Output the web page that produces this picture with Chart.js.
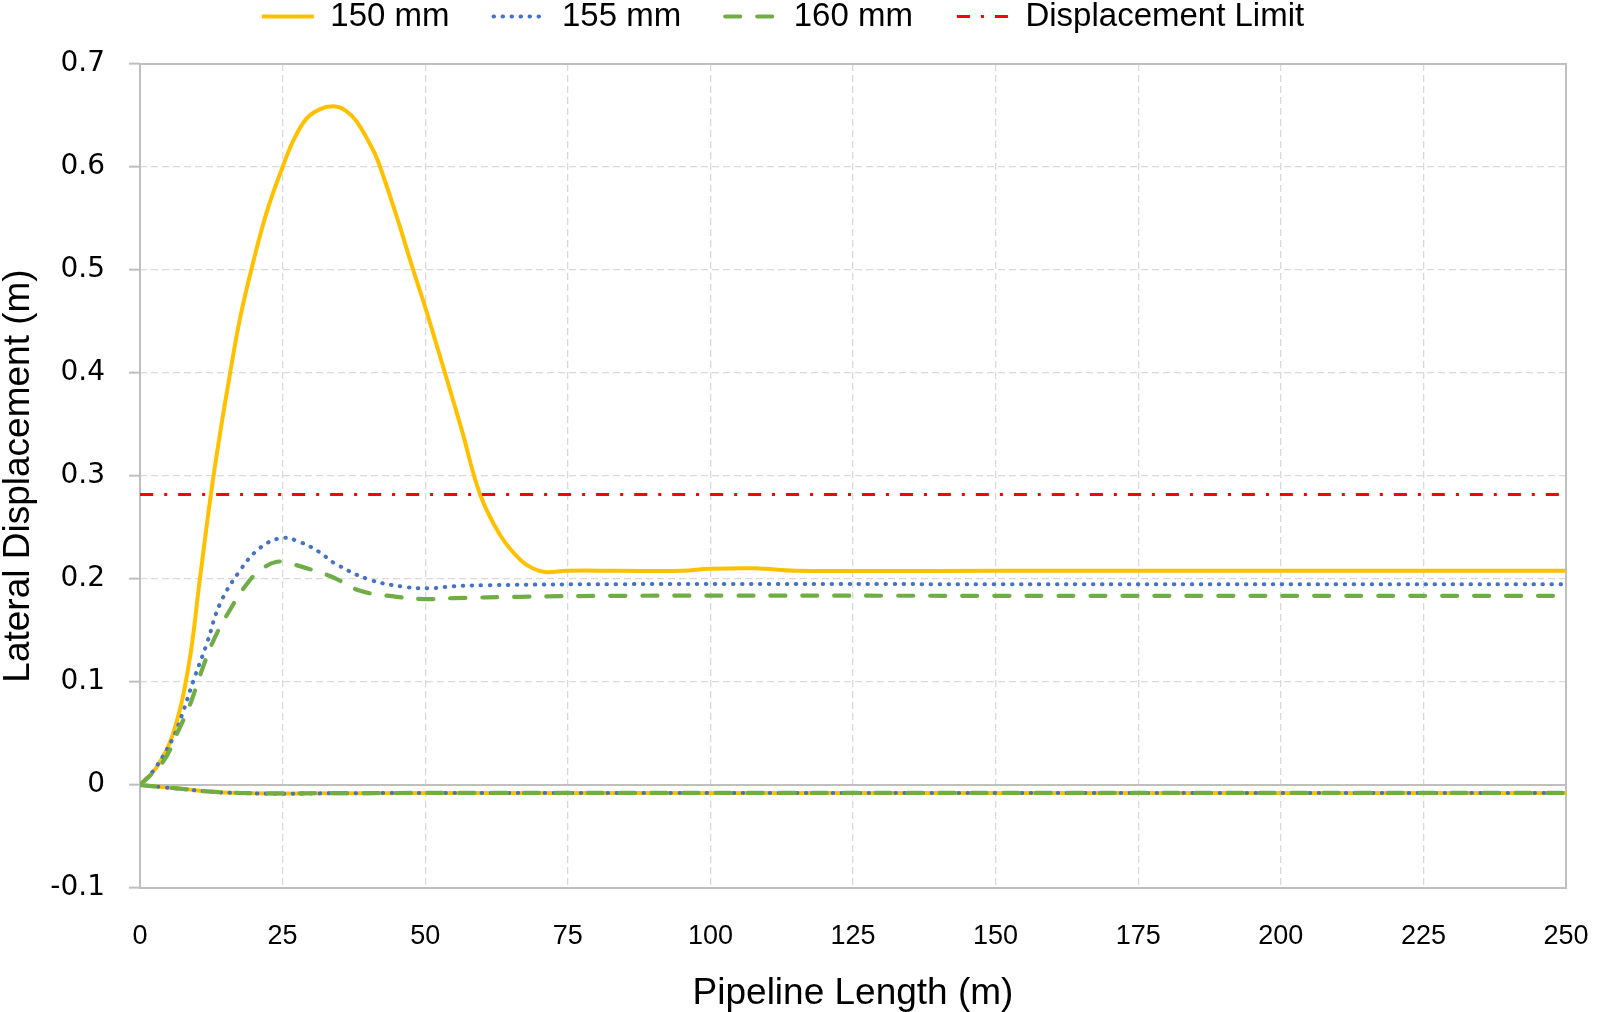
<!DOCTYPE html>
<html>
<head>
<meta charset="utf-8">
<script src="https://cdn.jsdelivr.net/npm/chart.js@4.4.1/dist/chart.umd.min.js"></script>
<style>
  html, body { margin: 0; padding: 0; background: #fff; }
  #wrap { width: 1600px; height: 1012px; }
</style>
</head>
<body>
<div id="wrap"><canvas id="myChart" width="1600" height="1012"></canvas></div>
<script>
// upper branches
const x150 = [0, 3, 5.8, 8.5, 10.5, 12.45, 14, 15.8, 17.5, 19.5, 22.2, 25, 27, 29.2, 31.5, 33.9, 36, 38, 40.9, 42.1, 45, 47.9, 50, 53.2, 56.4, 59.6, 63.1, 66.6, 69, 71.3, 74.8, 84, 95, 100, 108, 115, 150, 200, 250];
const y150 = [0, 0.018, 0.05, 0.115, 0.2, 0.283, 0.34, 0.4, 0.452, 0.5, 0.556, 0.6, 0.627, 0.647, 0.656, 0.659, 0.655, 0.644, 0.616, 0.6, 0.552, 0.5, 0.464, 0.405, 0.345, 0.2825, 0.243, 0.219, 0.21, 0.2066, 0.208, 0.208, 0.208, 0.21, 0.2104, 0.208, 0.208, 0.208, 0.208];

const x155 = [0, 2.3, 5.55, 7.3, 9.35, 11.7, 14, 17.5, 21, 24.8, 28, 31.5, 33.9, 40, 46.2, 50.8, 55, 60.8, 84, 150, 250];
const y155 = [0, 0.0136, 0.043, 0.067, 0.101, 0.137, 0.1756, 0.208, 0.23, 0.2397, 0.236, 0.226, 0.216, 0.1998, 0.1925, 0.191, 0.193, 0.194, 0.195, 0.195, 0.195];

const x160 = [0, 4.1, 6.4, 8.76, 10.5, 12.85, 15.5, 18.7, 21, 24, 27, 29.8, 33.9, 38.6, 45, 49.7, 55, 66.6, 84, 150, 250];
const y160 = [0, 0.023, 0.049, 0.078, 0.106, 0.14, 0.1675, 0.195, 0.208, 0.2167, 0.214, 0.2095, 0.2015, 0.1885, 0.1827, 0.1805, 0.1814, 0.1827, 0.1837, 0.1837, 0.1837];

// lower branches (all three nearly on top of each other)
const xLow = [0, 4, 8, 12, 16, 20, 25, 30, 40, 60, 100, 150, 200, 250];
const yLow150 = [0, -0.002, -0.004, -0.0063, -0.0075, -0.008, -0.0083, -0.0081, -0.0079, -0.0078, -0.0078, -0.0078, -0.0078, -0.0078];
const yLow155 = [0, -0.0022, -0.0042, -0.0064, -0.0076, -0.0081, -0.0086, -0.0082, -0.0079, -0.0078, -0.0077, -0.0077, -0.0077, -0.0077];
const yLow160 = [0, -0.0021, -0.0041, -0.0063, -0.0074, -0.0079, -0.0082, -0.008, -0.0078, -0.0077, -0.0077, -0.0077, -0.0077, -0.0077];

const xLimit = [0, 250];
const yLimit = [0.282, 0.282];

const xTicks = [0, 25, 50, 75, 100, 125, 150, 175, 200, 225, 250];
const yTicks = [-0.1, 0, 0.1, 0.2, 0.3, 0.4, 0.5, 0.6, 0.7];

const pts = (xs, ys) => xs.map((x, i) => ({ x: x, y: ys[i] }));

const styles = {
    s150: { borderColor: '#FFC000', borderWidth: 4, borderDash: [], borderCapStyle: 'butt' },
    s155: { borderColor: '#4472C4', borderWidth: 4, borderDash: [0.5, 8.5], borderCapStyle: 'round' },
    s160: { borderColor: '#70AD47', borderWidth: 4.2, borderDash: [15, 17], borderCapStyle: 'round' },
    lim: { borderColor: '#FF0000', borderWidth: 3, borderDash: [13, 11, 3, 11], borderCapStyle: 'butt' }
};

function series(label, data, st, order) {
    return Object.assign({
        label: label,
        data: data,
        backgroundColor: st.borderColor,
        pointRadius: 0,
        pointHoverRadius: 0,
        fill: false,
        tension: 0.4,
        pointStyle: 'line',
        order: order
    }, st);
}

const data = {
    datasets: [
        series('150 mm', pts(x150, y150), styles.s150, 7),
        series('155 mm', pts(x155, y155), styles.s155, 6),
        series('160 mm', pts(x160, y160), styles.s160, 5),
        series('Displacement Limit', pts(xLimit, yLimit), styles.lim, 4),
        series('', pts(xLow, yLow150), styles.s150, 3),
        series('', pts(xLow, yLow155), styles.s155, 2),
        series('', pts(xLow, yLow160), styles.s160, 1)
    ]
};

// frame round the plot and the solid zero line
const framePlugin = {
    id: 'frame',
    afterInit(chart) {
        // leave a gap between legend and plot
        const fit = chart.legend.fit;
        chart.legend.fit = function () {
            fit.call(this);
            this.height += 21;
        };
    },
    beforeDatasetsDraw(chart) {
        const { ctx, chartArea: a, scales } = chart;
        ctx.save();
        ctx.strokeStyle = '#BFBFBF';
        ctx.lineWidth = 2;
        ctx.setLineDash([]);
        ctx.strokeRect(a.left, a.top, a.right - a.left, a.bottom - a.top);
        const y0 = scales.y.getPixelForValue(0);
        ctx.beginPath();
        ctx.moveTo(a.left, y0);
        ctx.lineTo(a.right, y0);
        ctx.stroke();
        ctx.restore();
    }
};

const config = {
    type: 'line',
    data,
    options: {
        responsive: false,
        animation: false,
        devicePixelRatio: 1,
        layout: { padding: { top: -44, right: 34, bottom: 0, left: 0 } },
        plugins: {
            legend: {
                position: 'top',
                labels: {
                    usePointStyle: true,
                    pointStyleWidth: 52,
                    boxHeight: 10,
                    padding: 44,
                    color: '#000',
                    font: { family: 'Liberation Sans, Arial, sans-serif', size: 33 },
                    sort: (a, b) => a.datasetIndex - b.datasetIndex,
                    generateLabels: chart => Chart.defaults.plugins.legend.labels.generateLabels(chart)
                        .filter(item => item.text !== '')
                        .map(item => {
                            const ds = chart.data.datasets[item.datasetIndex];
                            item.lineDash = ds.borderDash;
                            item.lineWidth = ds.borderWidth;
                            item.lineCap = ds.borderCapStyle;
                            item.strokeStyle = ds.borderColor;
                            item.pointStyle = 'line';
                            return item;
                        })
                }
            },
            tooltip: { enabled: false }
        },
        scales: {
            x: {
                type: 'linear',
                min: 0,
                max: 250,
                afterFit: s => { s.height = 124; s.paddingLeft = 0; s.paddingRight = 0; },
                afterBuildTicks: s => { s.ticks = xTicks.map(v => ({ value: v })); },
                ticks: {
                    color: '#000',
                    padding: 32,
                    maxRotation: 0,
                    font: { family: 'Liberation Sans, Arial, sans-serif', size: 27 }
                },
                grid: { color: '#D9D9D9', lineWidth: 1.3, drawTicks: false },
                border: { display: false, dash: [7, 4] },
                title: {
                    display: true,
                    text: 'Pipeline Length (m)',
                    color: '#000',
                    padding: { top: 0, bottom: 0 },
                    font: { family: 'Liberation Sans, Arial, sans-serif', size: 37, lineHeight: 1 }
                }
            },
            y: {
                type: 'linear',
                min: -0.1,
                max: 0.7,
                afterFit: s => { s.width = 140; },
                afterBuildTicks: s => { s.ticks = yTicks.map(v => ({ value: v })); },
                ticks: {
                    color: '#000',
                    padding: 24,
                    callback: v => String(Math.round(v * 10) / 10),
                    font: { family: 'DejaVu Sans, sans-serif', size: 28 }
                },
                grid: { color: '#D9D9D9', lineWidth: 1.3, drawTicks: true, tickLength: 11, tickColor: '#BFBFBF', tickWidth: 2 },
                border: { display: false, dash: [7, 4] },
                title: {
                    display: true,
                    text: 'Lateral Displacement (m)',
                    color: '#000',
                    padding: { top: 0, bottom: 0 },
                    font: { family: 'Liberation Sans, Arial, sans-serif', size: 37, lineHeight: 1 }
                }
            }
        }
    },
    plugins: [framePlugin]
};

const myChart = new Chart(document.getElementById('myChart'), config);
</script>
</body>
</html>
